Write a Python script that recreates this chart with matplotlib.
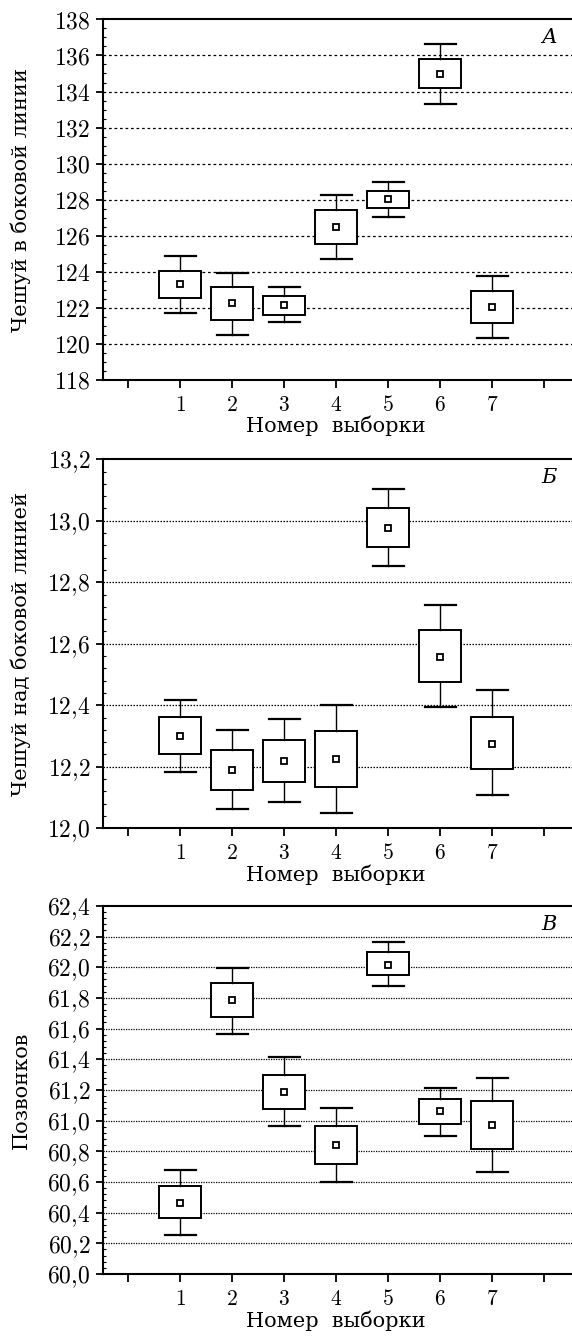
import matplotlib
matplotlib.use("Agg")
import matplotlib.pyplot as plt
from matplotlib.ticker import MultipleLocator, FuncFormatter

plt.rcParams['mathtext.fontset'] = 'cm'
plt.rcParams['font.family'] = ['DejaVu Serif', 'Liberation Serif']

samples = [1, 2, 3, 4, 5, 6, 7]
xlabel = "Номер  выборки"

# panel A: scales in lateral line
a_whishi = [124.86, 123.94, 123.16, 128.26, 128.99, 136.64, 123.78]
a_q3 = [124.07, 123.17, 122.68, 127.41, 128.51, 135.80, 122.95]
a_mean = [123.30, 122.26, 122.18, 126.51, 128.02, 134.95, 122.07]
a_q1 = [122.53, 121.34, 121.63, 125.54, 127.54, 134.17, 121.16]
a_whislo = [121.72, 120.50, 121.21, 124.72, 127.06, 133.32, 120.35]

# panel B: scales above lateral line
b_whishi = [12.416, 12.318, 12.356, 12.400, 13.104, 12.725, 12.449]
b_q3 = [12.361, 12.255, 12.287, 12.317, 13.042, 12.644, 12.363]
b_mean = [12.301, 12.189, 12.219, 12.224, 12.977, 12.558, 12.273]
b_q1 = [12.241, 12.125, 12.150, 12.134, 12.915, 12.474, 12.194]
b_whislo = [12.184, 12.063, 12.086, 12.051, 12.852, 12.395, 12.109]

# panel C: vertebrae
c_whishi = [60.677, 61.998, 61.416, 61.081, 62.166, 61.215, 61.278]
c_q3 = [60.573, 61.894, 61.297, 60.962, 62.097, 61.139, 61.129]
c_mean = [60.465, 61.788, 61.185, 60.839, 62.017, 61.062, 60.971]
c_q1 = [60.363, 61.676, 61.075, 60.714, 61.952, 60.975, 60.817]
c_whislo = [60.253, 61.563, 60.962, 60.597, 61.879, 60.902, 60.664]

panels = [
    dict(hi=a_whishi, q3=a_q3, mean=a_mean, q1=a_q1, lo=a_whislo,
         ylim=(118, 138), step=2, minor=0.5, dec=0, ylabel="Чешуй в боковой линии",
         letter="А", grid=(0, (2.2, 2.2)), rect=[0.1795, 0.716, 0.8455, 0.2695]),
    dict(hi=b_whishi, q3=b_q3, mean=b_mean, q1=b_q1, lo=b_whislo,
         ylim=(12.0, 13.2), step=0.2, minor=0.04, dec=1, ylabel="Чешуй над боковой линией",
         letter="Б", grid=(0, (1.2, 1.2)), rect=[0.1795, 0.381, 0.8455, 0.2758]),
    dict(hi=c_whishi, q3=c_q3, mean=c_mean, q1=c_q1, lo=c_whislo,
         ylim=(60.0, 62.4), step=0.2, minor=0.04, dec=1, ylabel="Позвонков",
         letter="В", grid=(0, (1, 1)), rect=[0.1795, 0.0478, 0.8455, 0.2752]),
]

xmin, xmax = -0.49, 8.81

fig = plt.figure(figsize=(5.72, 13.38), dpi=100)

for p in panels:
    ax = fig.add_axes(p['rect'])
    stats = []
    for i in range(len(samples)):
        stats.append(dict(med=p['mean'][i], q1=p['q1'][i], q3=p['q3'][i],
                          whislo=p['lo'][i], whishi=p['hi'][i], mean=p['mean'][i]))
    ax.bxp(stats, positions=samples, widths=0.8, capwidths=0.6,
           showmeans=True, showfliers=False, patch_artist=True,
           boxprops=dict(facecolor='white', edgecolor='black', linewidth=1.4),
           whiskerprops=dict(color='black', linewidth=1.0),
           capprops=dict(color='black', linewidth=1.6),
           medianprops=dict(linewidth=0),
           meanprops=dict(marker='s', markersize=5, markerfacecolor='white',
                          markeredgecolor='black', markeredgewidth=1.3),
           zorder=3)

    lo, hi = p['ylim']
    ax.set_ylim(lo, hi)
    ax.set_xlim(xmin, xmax)
    ax.yaxis.set_major_locator(MultipleLocator(p['step']))
    ax.yaxis.set_minor_locator(MultipleLocator(p['minor']))
    dec = p['dec']
    ax.yaxis.set_major_formatter(FuncFormatter(
        lambda v, pos, d=dec: "$" + f"{v:.{d}f}".replace('.', '{,}') + "$"))
    ax.set_xticks(range(0, 9))
    ax.set_xticklabels(["$%d$" % k if k in samples else "" for k in range(0, 9)])

    n = int(round((hi - lo) / p['step']))
    for k in range(1, n):
        ax.axhline(lo + k * p['step'], color='black', linewidth=0.9,
                   linestyle=p['grid'], zorder=1)

    for s in ax.spines.values():
        s.set_linewidth(1.5)
    ax.tick_params(axis='y', which='major', direction='out', length=5, width=1.3,
                   labelsize=17, pad=4)
    ax.tick_params(axis='y', which='minor', direction='in', length=2.5, width=0.8)
    ax.tick_params(axis='x', which='major', direction='out', length=6, width=1.3,
                   labelsize=15.5, pad=4)
    ax.set_xlabel(xlabel, fontsize=15)
    ax.xaxis.set_label_coords((samples[3] - xmin) / (xmax - xmin), -0.098)
    ax.set_ylabel(p['ylabel'], fontsize=15)
    ax.yaxis.set_label_coords(-0.148, 0.5)
    ax.text(0.923, 0.95, p['letter'], transform=ax.transAxes, fontsize=15,
            style='italic', ha='center', va='center')

fig.savefig("out.png", dpi=100)
